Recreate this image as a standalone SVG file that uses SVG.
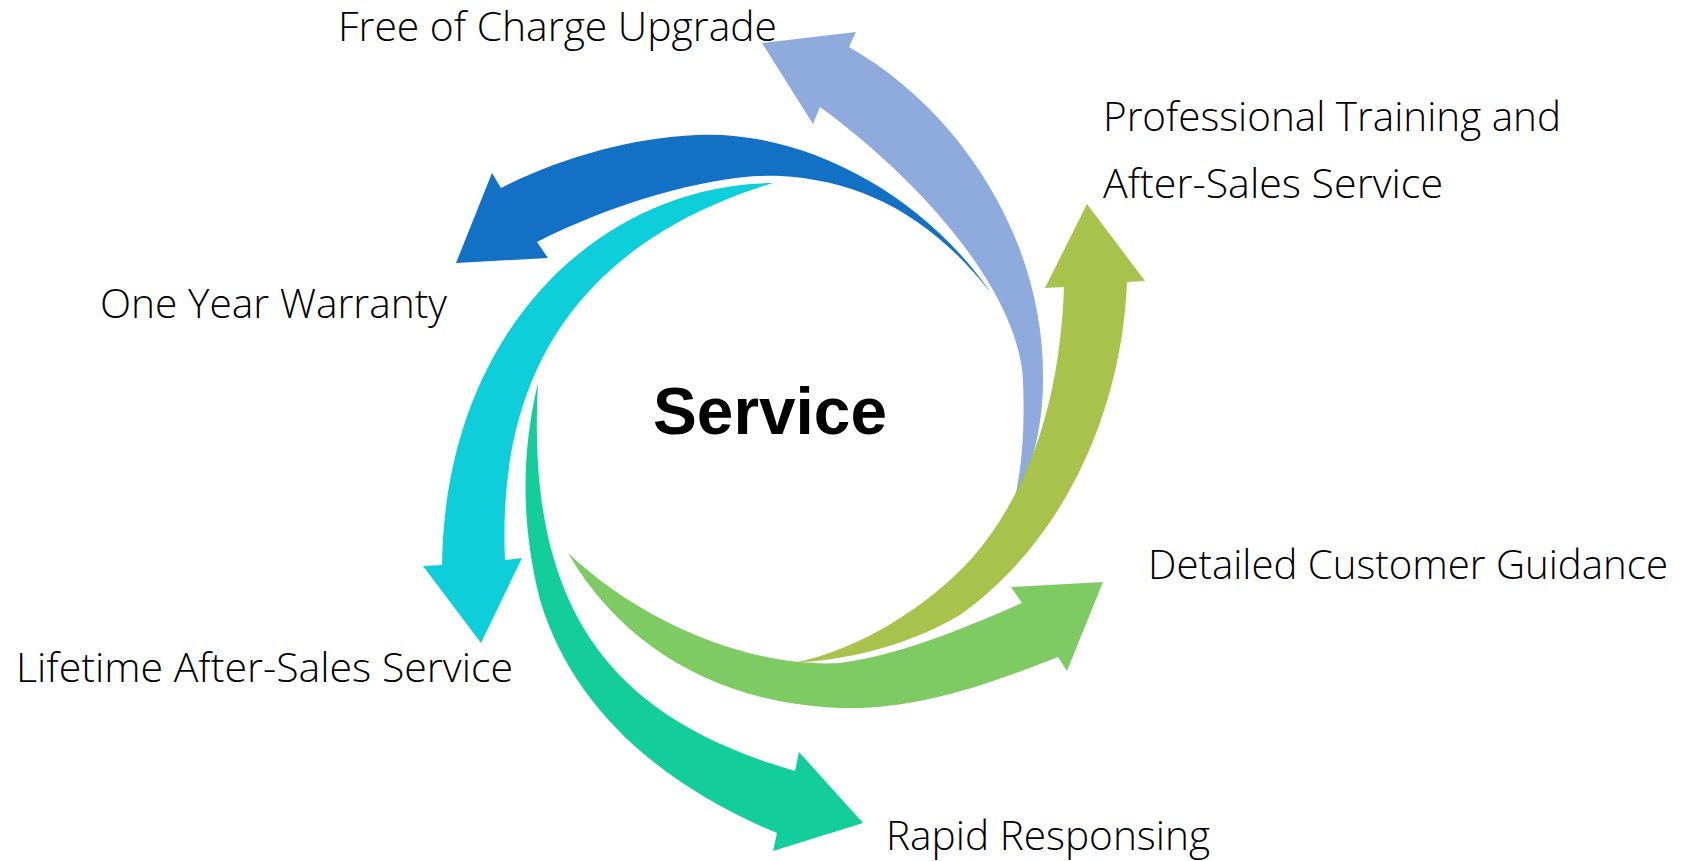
<svg xmlns="http://www.w3.org/2000/svg" width="1682" height="861" viewBox="0 0 1682 861">
<style>
.lbl{font-family:"Open Sans","Noto Sans","Liberation Sans",Arial,sans-serif;font-size:41px;font-weight:300;fill:#000;}
.ctr{font-family:"Liberation Sans",Arial,sans-serif;font-size:66px;font-weight:bold;fill:#000;}
</style>
<rect width="1682" height="861" fill="#fff"/>
<g id="connectors">
<path id="arrow-upgrade" fill="#8FAADC" d="M849,47 C960,110 1045,240 1043,380 C1043,430 1030,475 1013,506 C1022,470 1025,430 1023,380 C1018,290 920,180 820,107 L813,124 L762,43 L856,32 Z"/>
<path id="arrow-warranty" fill="#1270C5" d="M501,188 C560,158 630,138 697,135 C800,130 920,190 991,293 C930,215 860,180 780,176 C720,173 620,200 537,242 L548,258 L456,263 L492,173 Z"/>
<path id="arrow-lifetime" fill="#0ECFD9" d="M773,183 C600,185 445,330 442,565 L423,566 L481,643 L522,558 L505,560 C498,400 555,250 773,183 Z"/>
<path id="arrow-rapid" fill="#13CE9A" d="M538,383 C522,450 520,520 540,600 C570,700 650,780 777,833 L773,851 L863,823 L799,752 L795,771 C620,720 525,620 538,383 Z"/>
<path id="arrow-guidance" fill="#7ECB63" d="M568,553 C630,660 740,710 860,708 C930,706 1000,680 1058,657 L1067,671 L1103,582 L1011,587 L1022,603 C960,630 900,655 840,663 C760,668 650,630 568,553 Z"/>
<path id="arrow-training" fill="#A9C24C" d="M793,663 C860,650 930,605 973,557 C1030,490 1060,400 1064,287 L1045,288 L1087,204 L1145,281 L1127,282 C1122,410 1065,540 960,615 C900,650 840,660 793,663 Z"/>
</g>
<g id="node-center"><text class="ctr" x="653" y="434" textLength="234" lengthAdjust="spacingAndGlyphs">Service</text></g>
<g id="node-upgrade"><text class="lbl" x="338" y="41" textLength="439" lengthAdjust="spacingAndGlyphs">Free of Charge Upgrade</text></g>
<g id="node-training"><text class="lbl" x="1103" y="131" textLength="458" lengthAdjust="spacingAndGlyphs">Professional Training and</text><text class="lbl" x="1103" y="198" textLength="340" lengthAdjust="spacingAndGlyphs">After-Sales Service</text></g>
<g id="node-warranty"><text class="lbl" x="100" y="318" textLength="347" lengthAdjust="spacingAndGlyphs">One Year Warranty</text></g>
<g id="node-guidance"><text class="lbl" x="1148" y="579" textLength="520" lengthAdjust="spacingAndGlyphs">Detailed Customer Guidance</text></g>
<g id="node-lifetime"><text class="lbl" x="16" y="682" textLength="497" lengthAdjust="spacingAndGlyphs">Lifetime After-Sales Service</text></g>
<g id="node-rapid"><text class="lbl" x="886" y="850" textLength="324" lengthAdjust="spacingAndGlyphs">Rapid Responsing</text></g>
</svg>
